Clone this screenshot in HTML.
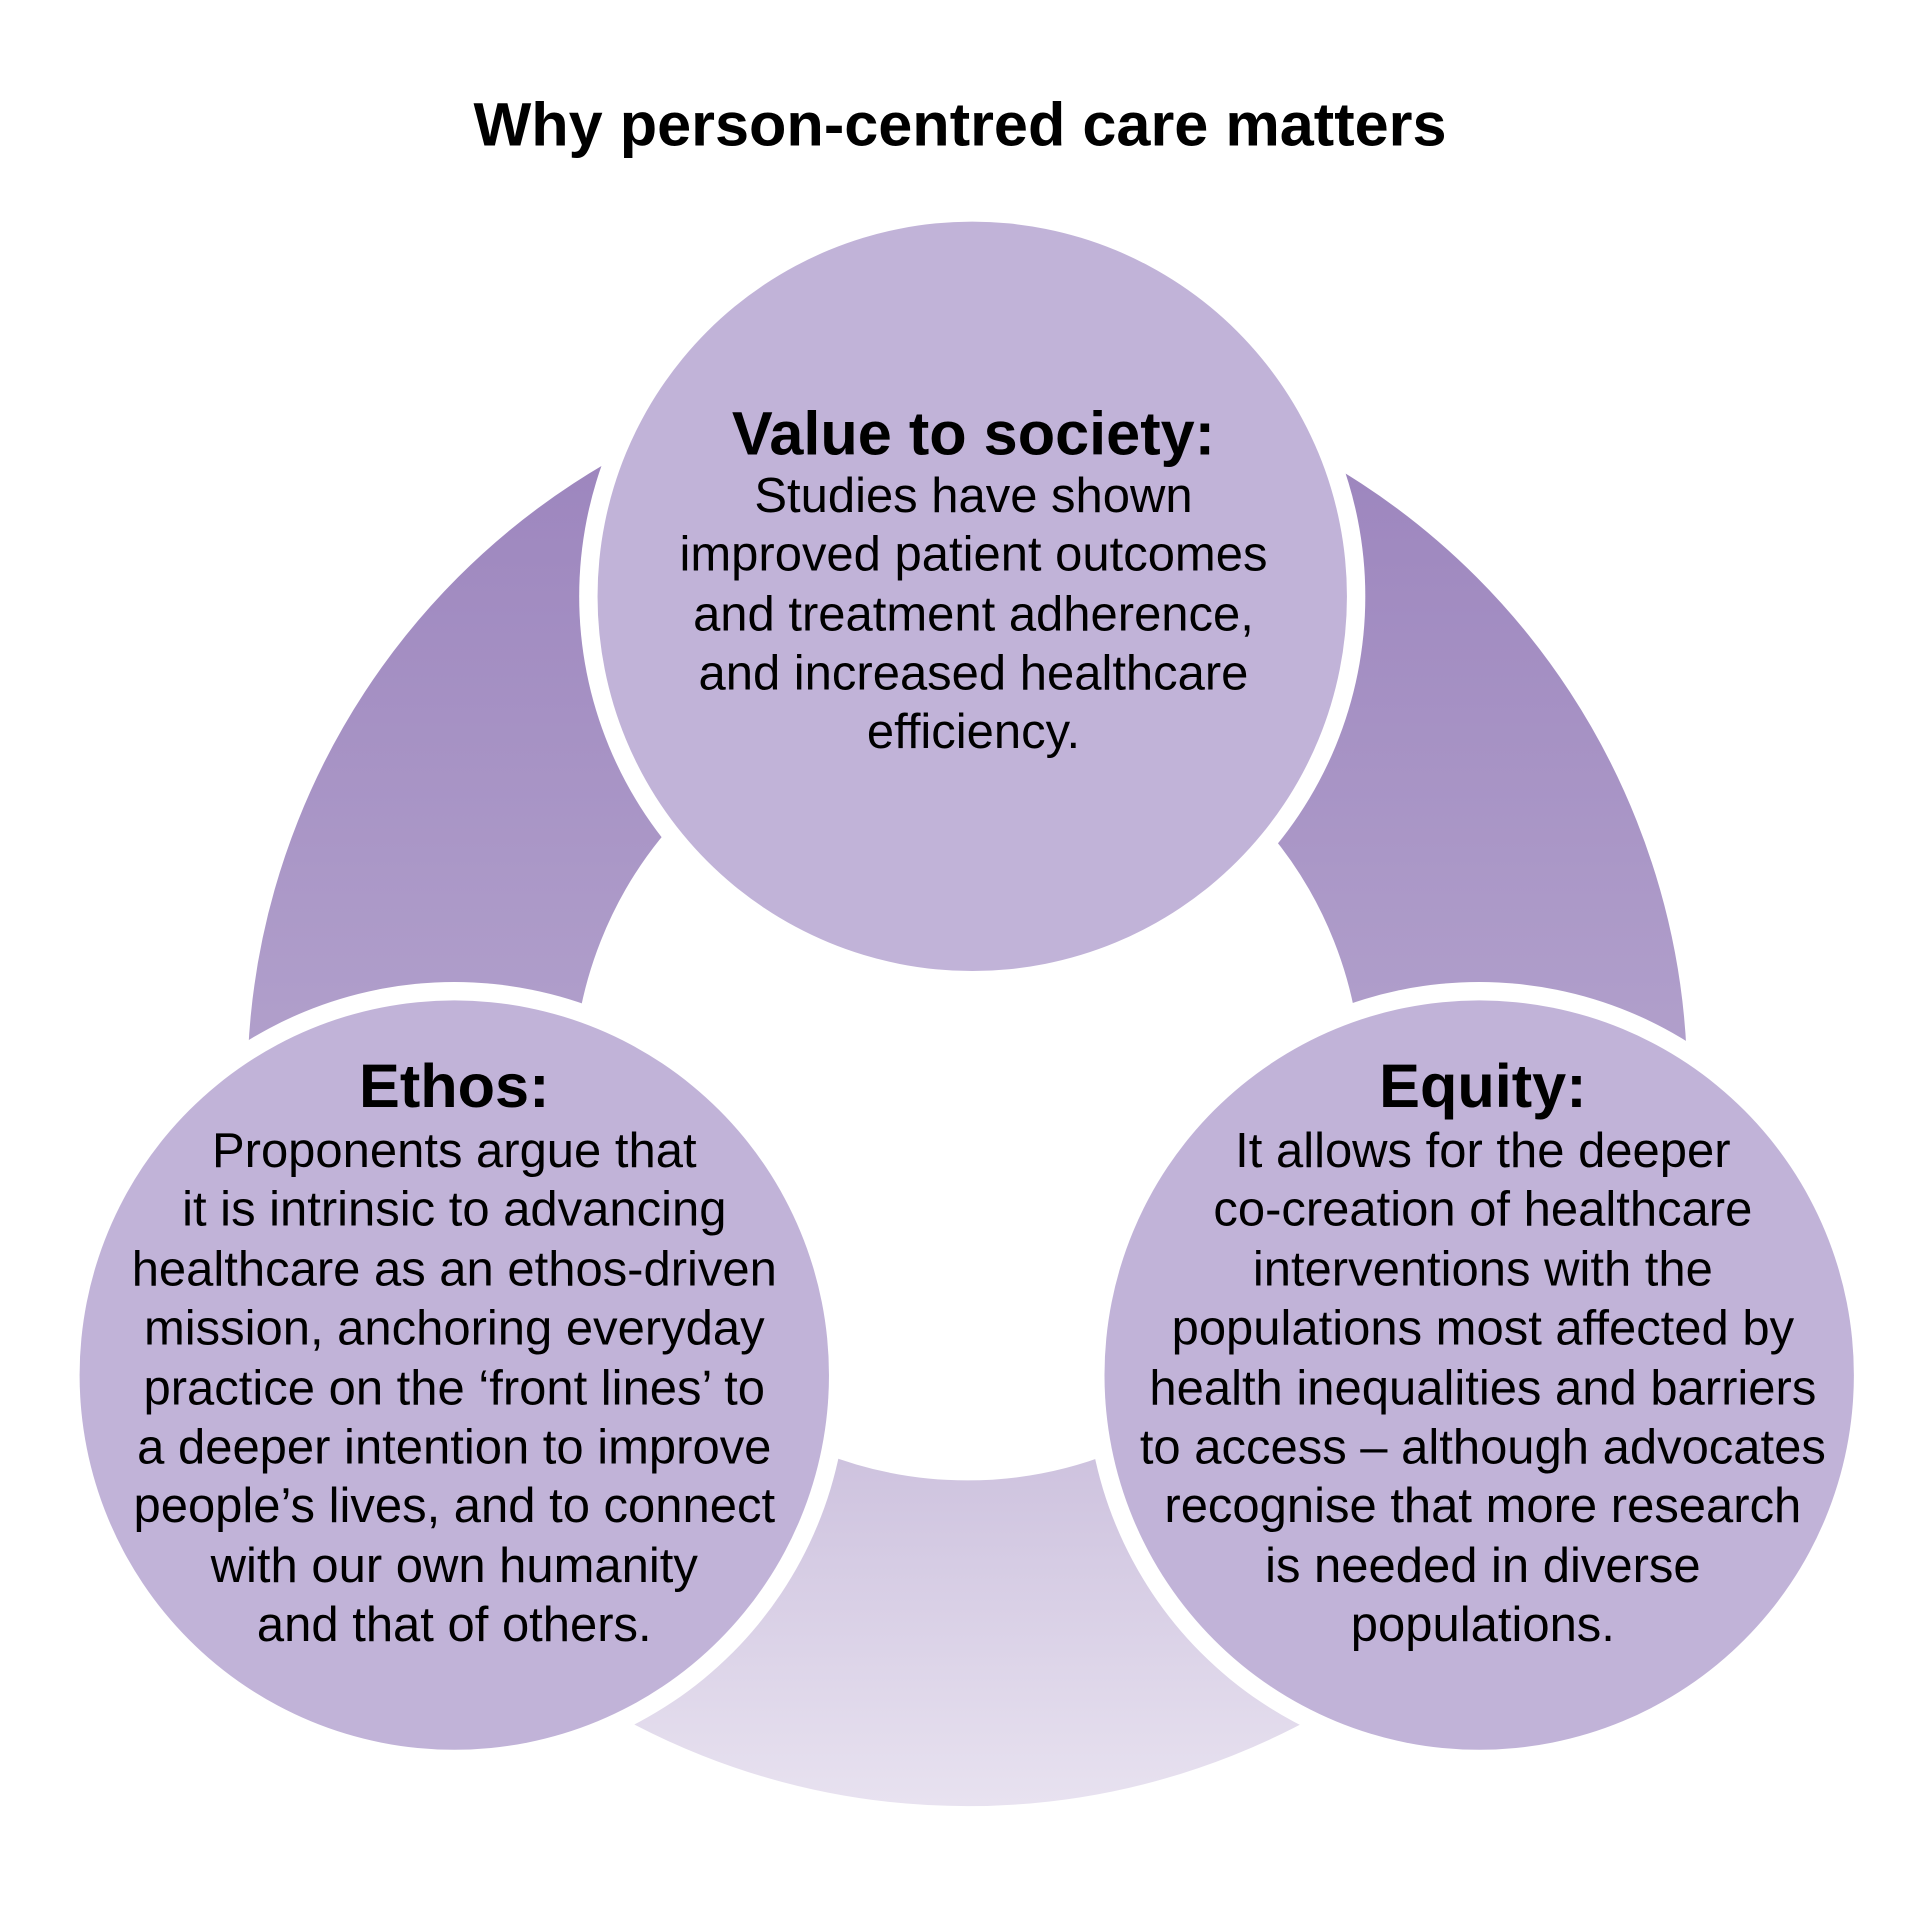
<!DOCTYPE html>
<html><head><meta charset="utf-8"><style>
html,body{margin:0;padding:0;background:#fff;}
svg{display:block;}
text{font-family:"Liberation Sans",Arial,sans-serif;fill:#000;}
</style></head><body>
<svg width="1920" height="1920" viewBox="0 0 1568 1568" xmlns="http://www.w3.org/2000/svg">
<defs>
<linearGradient id="rg" gradientUnits="userSpaceOnUse" x1="0" y1="300" x2="0" y2="1475">
<stop offset="0" stop-color="#9a82bc"/>
<stop offset="0.5" stop-color="#b2a1cc"/>
<stop offset="1" stop-color="#e8e2f0"/>
</linearGradient>
</defs>
<text x="784" y="119" font-size="50" font-weight="bold" text-anchor="middle">Why person-centred care matters</text>
<circle cx="790" cy="887" r="455" fill="none" stroke="url(#rg)" stroke-width="266"/>
<g fill="#fff">
<circle cx="794" cy="487" r="321"/>
<circle cx="371" cy="1123" r="321"/>
<circle cx="1208" cy="1123" r="321"/>
</g>
<g fill="#c1b3d8">
<circle cx="794" cy="487" r="306"/>
<circle cx="371" cy="1123" r="306"/>
<circle cx="1208" cy="1123" r="306"/>
</g>
<g text-anchor="middle" font-size="40">
<text x="795" y="371" font-size="50" font-weight="bold">Value to society:</text>
<text x="795" y="418">Studies have shown</text>
<text x="795" y="466">improved patient outcomes</text>
<text x="795" y="515">and treatment adherence,</text>
<text x="795" y="563">and increased healthcare</text>
<text x="795" y="611">efficiency.</text>

<text x="371" y="904" font-size="50" font-weight="bold">Ethos:</text>
<text x="371" y="953">Proponents argue that</text>
<text x="371" y="1001">it is intrinsic to advancing</text>
<text x="371" y="1050">healthcare as an ethos-driven</text>
<text x="371" y="1098">mission, anchoring everyday</text>
<text x="371" y="1147">practice on the ‘front lines’ to</text>
<text x="371" y="1195">a deeper intention to improve</text>
<text x="371" y="1243">people’s lives, and to connect</text>
<text x="371" y="1292">with our own humanity</text>
<text x="371" y="1340">and that of others.</text>

<text x="1211" y="904" font-size="50" font-weight="bold">Equity:</text>
<text x="1211" y="953">It allows for the deeper</text>
<text x="1211" y="1001">co-creation of healthcare</text>
<text x="1211" y="1050">interventions with the</text>
<text x="1211" y="1098">populations most affected by</text>
<text x="1211" y="1147">health inequalities and barriers</text>
<text x="1211" y="1195">to access – although advocates</text>
<text x="1211" y="1243">recognise that more research</text>
<text x="1211" y="1292">is needed in diverse</text>
<text x="1211" y="1340">populations.</text>
</g>
</svg>
</body></html>
